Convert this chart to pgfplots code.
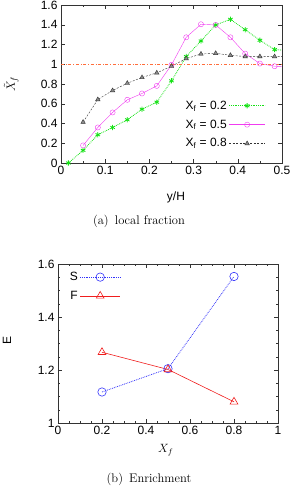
\documentclass[border=0pt]{standalone}
\usepackage{fontspec}
\setsansfont{Liberation Sans}
\usepackage{pgfplots}
\pgfplotsset{compat=1.18}
\definecolor{cgreen}{RGB}{20,225,20}
\definecolor{cmag}{RGB}{240,60,240}
\definecolor{cblk}{RGB}{50,50,50}
\definecolor{corange}{RGB}{255,110,60}
\definecolor{cblue}{RGB}{50,50,250}
\definecolor{cred}{RGB}{240,30,30}
\newcommand{\tf}{\fontsize{12}{14}\selectfont}
\pgfplotsset{
  gstyle/.style={
    scale only axis,
    tick align=inside,
    axis line style={black!80},
    major tick length=4pt, minor tick length=2pt,
    tick style={black!80},
    /pgf/number format/assume math mode=true,
    /pgf/number format/fixed,
    ticklabel style={font=\sffamily\tf},
    label style={font=\tf},
    legend style={draw=none, fill=none, font=\sffamily\tf, legend plot pos=right, legend cell align=right},
  }
}
\begin{document}
\begin{tikzpicture}[x=1pt,y=1pt]
\useasboundingbox (0,0) rectangle (291,-488);
\begin{axis}[gstyle,
  at={(61pt,-5pt)}, anchor=north west, width=221pt, height=158pt,
  xmin=0, xmax=0.5, ymin=0, ymax=1.6,
  xtick={0,0.1,0.2,0.3,0.4,0.5}, ytick={0,0.2,0.4,0.6,0.8,1,1.2,1.4,1.6},
  minor x tick num=1,
  xlabel={\sffamily y/H}, ylabel={\fontsize{13}{15}\selectfont$\tilde{X}_f$},
  xlabel style={at={(axis description cs:0.52,-0.215)}, anchor=center},
  ylabel style={at={(axis description cs:-0.225,0.5)}, anchor=center},
  legend style={at={(axis description cs:0.94,0.42)}, anchor=north east, row sep=5pt},
  legend image code/.code={\draw[mark repeat=2, mark phase=2] plot coordinates {(0pt,0pt) (18pt,0pt) (36pt,0pt)};},
]
\addplot[cgreen, densely dotted, thick, mark=asterisk, mark size=2.6pt, mark options={solid, thick}] coordinates {
(0.0167,0) (0.05,0.128) (0.0833,0.286) (0.1167,0.36) (0.15,0.438) (0.1833,0.545)
(0.2167,0.616) (0.25,0.832) (0.2833,1.078) (0.3167,1.236) (0.35,1.398) (0.3833,1.455)
(0.4167,1.35) (0.45,1.243) (0.4833,1.148) (0.5167,1.14)};
\addlegendentry{X\textsubscript{f} = 0.2}
\addplot[cmag, mark=o, mark size=2.6pt] coordinates {
(0.05,0.178) (0.0833,0.36) (0.1167,0.512) (0.15,0.64) (0.1833,0.704) (0.2167,0.781)
(0.25,0.994) (0.2833,1.273) (0.3167,1.405) (0.35,1.398) (0.3833,1.273) (0.4167,1.108)
(0.45,1.007) (0.4833,0.98) (0.5167,0.975)};
\addlegendentry{X\textsubscript{f} = 0.5}
\addplot[cblk, dash pattern=on 2pt off 1.5pt, mark=triangle*, mark size=2.6pt, mark options={solid, fill=black!45, draw=cblk}] coordinates {
(0.05,0.414) (0.0833,0.643) (0.1167,0.734) (0.15,0.808) (0.1833,0.866) (0.2167,0.913)
(0.25,0.98) (0.2833,1.057) (0.3167,1.104) (0.35,1.111) (0.3833,1.091) (0.4167,1.078)
(0.45,1.078) (0.4833,1.078) (0.5167,1.078)};
\addlegendentry{X\textsubscript{f} = 0.8}
\addplot[corange, dash dot, forget plot] coordinates {(0,1) (0.5,1)};
\end{axis}
\node[font=\fontsize{12.5}{15}\selectfont] at (139,-221) {(a)\, local fraction};

\begin{axis}[gstyle,
  at={(58pt,-264pt)}, anchor=north west, width=220pt, height=159pt,
  xmin=0, xmax=1, ymin=1, ymax=1.6,
  xtick={0,0.2,0.4,0.6,0.8,1}, ytick={1,1.2,1.4,1.6},
  minor tick num=3,
  xlabel={$X_f$}, ylabel={\sffamily E},
  xlabel style={at={(axis description cs:0.49,-0.17)}, anchor=center},
  ylabel style={at={(axis description cs:-0.232,0.52)}, anchor=center},
  legend style={at={(axis description cs:0.03,0.975)}, anchor=north west, row sep=5pt},
  legend image code/.code={\draw[mark repeat=2, mark phase=2] plot coordinates {(0pt,0pt) (20pt,0pt) (40pt,0pt)};},
]
\addplot[cblue, densely dotted, thick, mark=o, mark size=4.2pt, mark options={solid, semithick}] coordinates {
(0.2,1.117) (0.5,1.205) (0.8,1.553)};
\addlegendentry{S}
\addplot[cred, semithick, mark=triangle, mark size=4.5pt, mark options={solid}] coordinates {
(0.2,1.267) (0.5,1.202) (0.8,1.08)};
\addlegendentry{F}
\end{axis}
\node[font=\fontsize{12.5}{15}\selectfont] at (149,-479) {(b)\, Enrichment};
\end{tikzpicture}
\end{document}
